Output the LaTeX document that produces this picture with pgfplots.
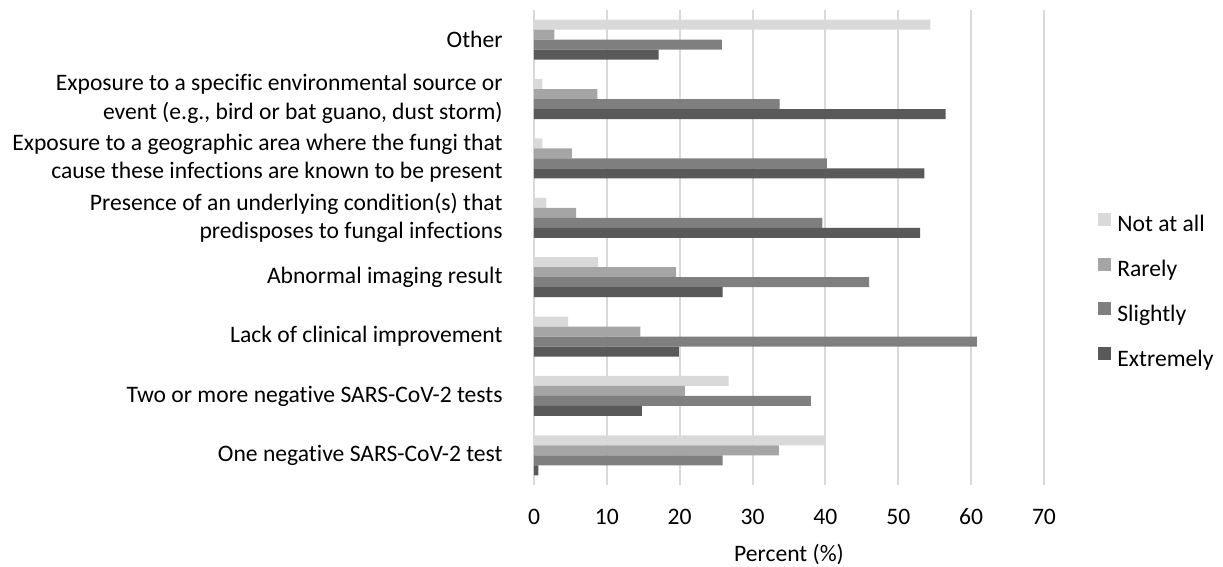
\documentclass[border=0pt]{standalone}
\usepackage{fontspec}
\setmainfont{Carlito}[Ligatures=NoCommon]
\usepackage{pgfplots}
\pgfplotsset{compat=1.18}
\definecolor{cNot}{HTML}{D9D9D9}
\definecolor{cRare}{HTML}{A5A5A5}
\definecolor{cSlight}{HTML}{7F7F7F}
\definecolor{cExt}{HTML}{595959}
\definecolor{cGrid}{HTML}{D9D9D9}
\begin{document}
\begin{tikzpicture}
\begin{axis}[
  at={(0,0)}, anchor=south west,
  scale only axis, width=255pt, height=237.5pt,
  xbar, bar width=5pt,
  xmin=0, xmax=70, ymin=-0.5, ymax=7.5,
  xtick={0,10,...,70},
  ytick={0,...,7},
  yticklabels={
    {One negative SARS-CoV-2 test},
    {Two or more negative SARS-CoV-2 tests},
    {Lack of clinical improvement},
    {Abnormal imaging result},
    {Presence of an underlying condition(s) that\\predisposes to fungal infections},
    {Exposure to a geographic area where the fungi that\\cause these infections are known to be present},
    {Exposure to a specific environmental source or\\event (e.g., bird or bat guano, dust storm)},
    {Other}},
  axis line style={draw=none},
  major tick length=0pt,
  xmajorgrids, ymajorgrids=false,
  major grid style={color=cGrid, line width=1pt},
  /pgf/number format/assume math mode=true,
  yticklabel style={font=\fontsize{11.8}{14.25}\selectfont, align=right, anchor=east, inner sep=0pt, xshift=-15.5pt},
  xticklabel style={font=\fontsize{11.8}{13}\selectfont, anchor=base, inner sep=0pt, yshift=-20pt},
  xlabel={Percent (\%)},
  xlabel style={font=\fontsize{11.8}{13}\selectfont, at={(axis description cs:0.5,0)}, anchor=base, inner sep=0pt, yshift=-38.5pt},
  legend cell align=left,
  legend image code/.code={\fill[#1] (0pt,0.4pt) rectangle (6.5pt,6.9pt);},
  legend style={draw=none, fill=none, at={(axis description cs:1.1059,0.4065)}, anchor=west,
    inner sep=0pt, row sep=10.5pt, font=\fontsize{11.8}{13}\selectfont,
    nodes={inner sep=0pt, text height=7.5pt, text depth=2.5pt},
    /tikz/every odd column/.append style={column sep=3pt}},
]
\addplot[fill=cNot, draw=none, bar shift=7.5pt] coordinates {
  (40.0,0) (26.7,1) (4.7,2) (8.8,3) (1.7,4) (1.15,5) (1.15,6) (54.4,7)};
\addlegendentry{Not at all}
\addplot[fill=cRare, draw=none, bar shift=2.5pt] coordinates {
  (33.6,0) (20.7,1) (14.6,2) (19.5,3) (5.8,4) (5.2,5) (8.7,6) (2.8,7)};
\addlegendentry{Rarely}
\addplot[fill=cSlight, draw=none, bar shift=-2.5pt] coordinates {
  (25.9,0) (38.0,1) (60.8,2) (46.0,3) (39.6,4) (40.2,5) (33.7,6) (25.8,7)};
\addlegendentry{Slightly}
\addplot[fill=cExt, draw=none, bar shift=-7.5pt] coordinates {
  (0.6,0) (14.8,1) (19.9,2) (25.9,3) (53.0,4) (53.6,5) (56.5,6) (17.1,7)};
\addlegendentry{Extremely}
\end{axis}
\pgfresetboundingbox
\path[use as bounding box] (-267pt,-41pt) rectangle (344.5pt,242.5pt);
\end{tikzpicture}
\end{document}
